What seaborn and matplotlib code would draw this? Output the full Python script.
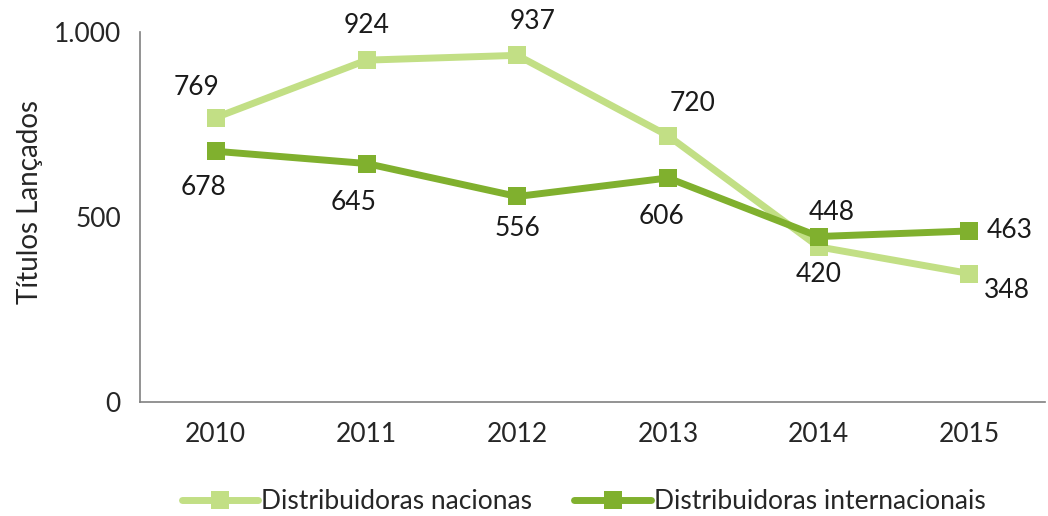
import pandas as pd
import numpy as np
import matplotlib.pyplot as plt
import seaborn as sns
from matplotlib.ticker import FuncFormatter

# ============================================================
# DATA
# ============================================================

years = ["2010", "2011", "2012", "2013", "2014", "2015"]
nacionais = [769, 924, 937, 720, 420, 348]
internacionais = [678, 645, 556, 606, 448, 463]

series_names = ["Distribuidoras nacionas", "Distribuidoras internacionais"]

df = pd.DataFrame({
    "ano": years * 2,
    "titulos": nacionais + internacionais,
    "serie": [series_names[0]] * 6 + [series_names[1]] * 6,
})

# ============================================================
# STYLE
# ============================================================

sns.set_style("white")
plt.rcParams['font.family'] = ['Lato', 'DejaVu Sans']

light = "#C2DF85"
dark = "#80B02E"
palette = {series_names[0]: light, series_names[1]: dark}
FS = 19

fig, ax = plt.subplots(figsize=(10.48, 5.16), dpi=100)
fig.subplots_adjust(left=0.134, right=0.997, top=0.938, bottom=0.22)

sns.lineplot(
    data=df,
    x="ano",
    y="titulos",
    hue="serie",
    palette=palette,
    marker="s",
    markersize=13,
    markeredgewidth=0,
    linewidth=5,
    sort=False,
    ax=ax,
)

ax.set_xlim(-0.5, 5.5)
ax.set_ylim(0, 1000)
ax.set_yticks([0, 500, 1000])
ax.yaxis.set_major_formatter(
    FuncFormatter(lambda v, p: f"{int(v):,}".replace(",", "."))
)
ax.set_xlabel("")
ax.set_ylabel("Títulos Lançados", fontsize=20)
ax.yaxis.set_label_coords(-0.108, 0.54)

# spines
for s in ["top", "right"]:
    ax.spines[s].set_visible(False)
for s in ["left", "bottom"]:
    ax.spines[s].set_color("#808080")
    ax.spines[s].set_linewidth(1.2)

ax.tick_params(axis="y", length=0, labelsize=FS, pad=14)
ax.tick_params(axis="x", which="major", length=0, labelsize=FS, pad=14)
ax.set_xticks(np.arange(0.5, 5.0, 1.0), minor=True)
ax.tick_params(axis="x", which="minor", length=7, color="#808080",
               width=1.2, direction="out")

# ============================================================
# DATA LABELS
# ============================================================

label_offsets_nac = [(-14, 22), (0, 25), (11, 24), (18, 23), (0, -20), (27, -12)]
label_offsets_int = [(-9, -26), (-9, -28), (0, -23), (-5, -28), (9, 17), (29, 0)]

for i, v in enumerate(nacionais):
    dx, dy = label_offsets_nac[i]
    ax.annotate(str(v), (i, v), xytext=(dx, dy), textcoords="offset points",
                ha="center", va="center", fontsize=FS, color="#1a1a1a")

for i, v in enumerate(internacionais):
    dx, dy = label_offsets_int[i]
    ax.annotate(str(v), (i, v), xytext=(dx, dy), textcoords="offset points",
                ha="center", va="center", fontsize=FS, color="#1a1a1a")

# ============================================================
# LEGEND
# ============================================================

handles, labels = ax.get_legend_handles_labels()
ax.legend(
    handles, labels,
    loc="upper center",
    bbox_to_anchor=(0.49, -0.17),
    ncol=2,
    frameon=False,
    fontsize=FS,
    handlelength=2.9,
    handletextpad=0.1,
    columnspacing=1.6,
)

plt.savefig("out.png", dpi=100)
